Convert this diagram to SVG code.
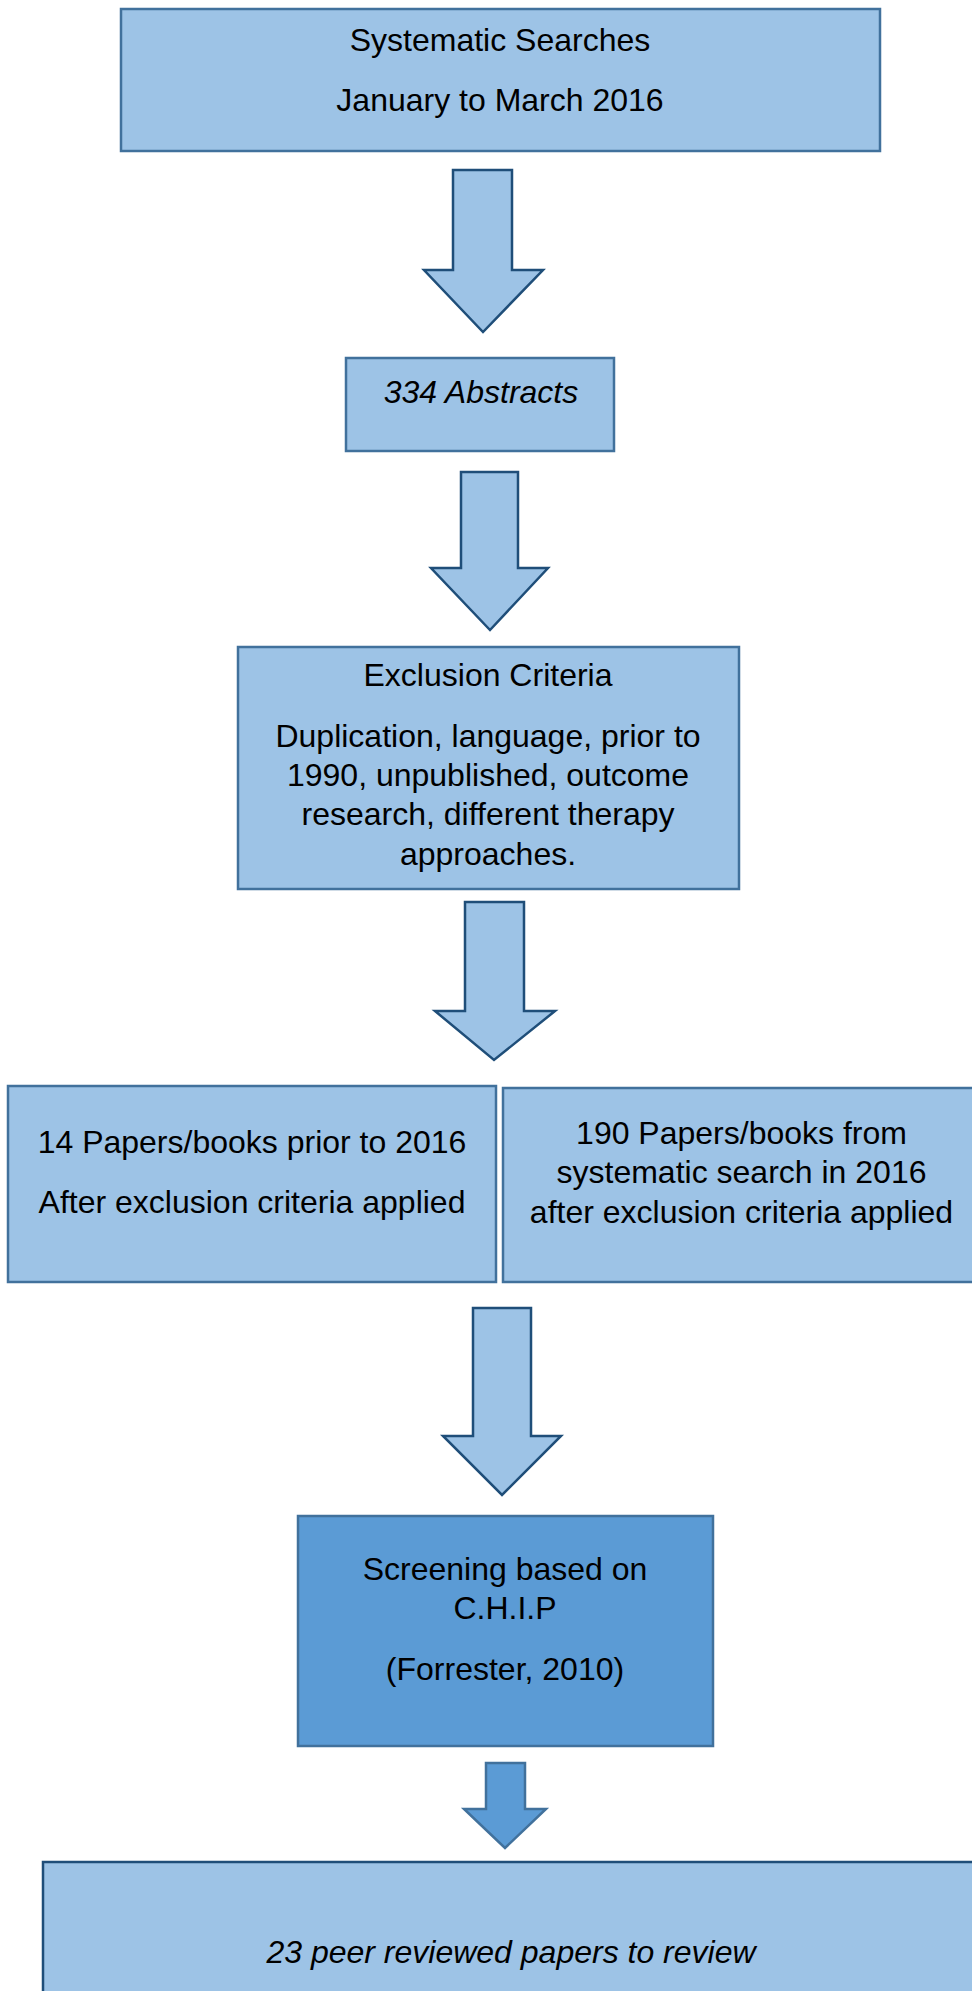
<svg xmlns="http://www.w3.org/2000/svg" width="972" height="1991" viewBox="0 0 972 1991">
<style>
.box{fill:#9DC3E6;stroke:#41719C;stroke-width:2.5}
.dark{fill:#5B9BD5;stroke:#41719C;stroke-width:2.5}
.arr{fill:#9DC3E6;stroke:#1F4E79;stroke-width:2.5;stroke-linejoin:miter}
.arr2{fill:#5B9BD5;stroke:#41719C;stroke-width:2.5}
text{font-family:"Liberation Sans",Arial,sans-serif;font-size:32px;fill:#000;text-anchor:middle}
.it{font-style:italic}
</style>
<rect width="972" height="1991" fill="#fff"/>
<g id="connectors">
<polygon class="arr" points="453,170 512,170 512,270 543,270 483,332 424,270 453,270"/>
<polygon class="arr" points="461,472 518,472 518,568 548,568 490,630 431,568 461,568"/>
<polygon class="arr" points="465,902 524,902 524,1011 555,1011 494,1060 435,1011 465,1011"/>
<polygon class="arr" points="473,1308 531,1308 531,1436 561,1436 502,1495 443,1436 473,1436"/>
<polygon class="arr2" points="486,1763 525,1763 525,1809 546,1809 505,1848 464,1809 486,1809"/>
</g>
<g id="n1">
<rect class="box" x="121" y="9" width="759" height="142"/>
<text x="500" y="51">Systematic Searches</text>
<text x="500" y="111">January to March 2016</text>
</g>
<g id="n2">
<rect class="box" x="346" y="358" width="268" height="93"/>
<text class="it" x="481" y="403">334 Abstracts</text>
</g>
<g id="n3">
<rect class="box" x="238" y="647" width="501" height="242"/>
<text x="488" y="686">Exclusion Criteria</text>
<text x="488" y="747">Duplication, language, prior to</text>
<text x="488" y="786">1990, unpublished, outcome</text>
<text x="488" y="825">research, different therapy</text>
<text x="488" y="865">approaches.</text>
</g>
<g id="n4">
<rect class="box" x="8" y="1086" width="488" height="196"/>
<text x="252" y="1153">14 Papers/books prior to 2016</text>
<text x="252" y="1213">After exclusion criteria applied</text>
</g>
<g id="n5">
<rect class="box" x="503" y="1088" width="480" height="194"/>
<text x="741.5" y="1144">190 Papers/books from</text>
<text x="741.5" y="1183">systematic search in 2016</text>
<text x="741.5" y="1223">after exclusion criteria applied</text>
</g>
<g id="n6">
<rect class="dark" x="298" y="1516" width="415" height="230"/>
<text x="505" y="1580">Screening based on</text>
<text x="505" y="1619">C.H.I.P</text>
<text x="505" y="1680">(Forrester, 2010)</text>
</g>
<g id="n7">
<rect class="box" x="43" y="1862" width="936" height="140" style="stroke:#1F4E79"/>
<text class="it" x="511" y="1963">23 peer reviewed papers to review</text>
</g>
</svg>
